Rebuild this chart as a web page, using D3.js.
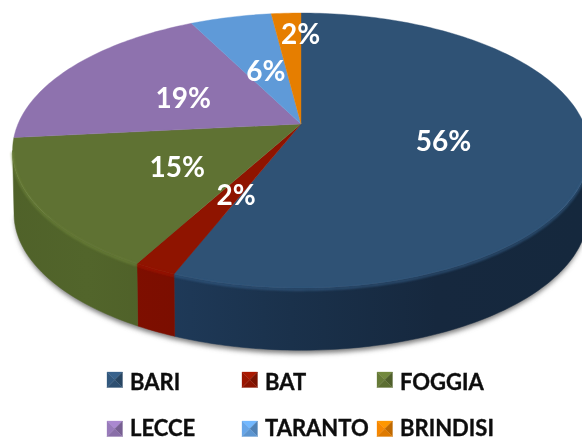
<!DOCTYPE html>
<html lang="en">

<head>
    <meta charset="UTF-8">
    <title>Pie 3D</title>
    <script src="https://d3js.org/d3.v7.min.js"></script>
    <style>
        html, body {
            margin: 0;
            padding: 0;
            background: #fff;
        }

        svg {
            display: block;
        }

        text {
            font-family: Lato, 'Open Sans', sans-serif;
        }

        .pct {
            fill: #fff;
            font-size: 28px;
            font-weight: 700;
            text-anchor: middle;
            dominant-baseline: central;
        }

        .legend-label {
            fill: #0d0d0d;
            stroke: #0d0d0d;
            stroke-width: 0.35px;
            font-size: 22px;
            font-weight: 700;
        }
    </style>
</head>

<body>
    <div id="chart"></div>

    <script>
        // Data (the labels show them rounded)
        const categories = ["BARI", "BAT", "FOGGIA", "LECCE", "TARANTO", "BRINDISI"];
        const shares = [56, 2, 15.4, 19.1, 5.5, 2];
        const colors = ["#2f5275", "#8f1400", "#5f7233", "#8e72ae", "#5f9ad8", "#e67e00"];
        const sideColors = ["#182d45", "#7d0e00", "#4f6129", "#6f5789", "#4a7ab0", "#b56300"];

        const width = 582, height = 441;

        // Perspective settings of the disc
        const apex = { x: 301, y: 124 };
        const persp = 0.193;
        const radiusX = 283, radiusY = 132.4;
        const depth = 63;
        const bottomShrink = 0.995;

        // project a point of the disc (angle clockwise from top, r 0..1) on screen
        function project(angle, r = 1, drop = 0, shrink = 1) {
            const u = Math.sin(angle) * r;
            const v = Math.cos(angle) * r;
            const w = 1 + persp * v;
            return [
                apex.x + radiusX * shrink * u / w,
                apex.y - radiusY * shrink * v / w + drop
            ];
        }

        function samples(a0, a1) {
            const n = Math.max(2, Math.ceil(Math.abs(a1 - a0) / 0.02));
            return d3.range(n + 1).map(i => a0 + (a1 - a0) * i / n);
        }

        const line = d3.line();
        const color = d3.scaleOrdinal().domain(categories).range(colors);
        const sideColor = d3.scaleOrdinal().domain(categories).range(sideColors);

        const pie = d3.pie().sort(null).value((d, i) => shares[i]);
        const slices = pie(categories);

        const svg = d3.select("#chart").append("svg")
            .attr("width", width)
            .attr("height", height);

        const defs = svg.append("defs");
        defs.append("filter").attr("id", "blurShadow")
            .attr("x", "-10%").attr("y", "-10%").attr("width", "120%").attr("height", "120%")
            .append("feGaussianBlur").attr("stdDeviation", 2.5);
        defs.append("filter").attr("id", "blurRim")
            .attr("x", "-10%").attr("y", "-10%").attr("width", "120%").attr("height", "120%")
            .append("feGaussianBlur").attr("stdDeviation", 1.2);
        defs.append("filter").attr("id", "blurText")
            .append("feGaussianBlur").attr("stdDeviation", 0.35);

        // Horizontal shading of each wall piece
        slices.forEach(s => {
            const base = d3.color(sideColor(s.data));
            const grad = defs.append("linearGradient")
                .attr("id", "wall" + s.index)
                .attr("gradientUnits", "userSpaceOnUse")
                .attr("x1", 0).attr("x2", width).attr("y1", 0).attr("y2", 0);
            const stops = s.data === "BARI"
                ? [[0.28, base.brighter(0.7)], [0.5, base.brighter(0.25)], [0.75, base.darker(0.3)], [1, base.darker(0.35)]]
                : [[0, base], [0.15, base.brighter(0.12)], [0.3, base.darker(0.05)]];
            stops.forEach(([o, c]) => grad.append("stop").attr("offset", o).attr("stop-color", c));
        });

        // Only the front of the wall can be seen, between the two tangent angles
        const wallFrom = Math.acos(-persp), wallTo = 2 * Math.PI - wallFrom;

        // Shadow under the disc
        const shadowRing = samples(wallFrom, wallTo).map(a => project(a, 1, depth + 4, bottomShrink - 0.005));
        svg.append("path")
            .attr("d", line(shadowRing) + "Z")
            .attr("fill", "#7a7a7a")
            .attr("filter", "url(#blurShadow)");

        // Side wall
        slices.forEach(s => {
            const a0 = Math.max(s.startAngle, wallFrom);
            const a1 = Math.min(s.endAngle, wallTo);
            if (a1 <= a0) return;
            const top = samples(a0, a1).map(a => project(a));
            const bottom = samples(a1, a0).map(a => project(a, 1, depth, bottomShrink));
            svg.append("path")
                .attr("d", line(top.concat(bottom)) + "Z")
                .attr("fill", `url(#wall${s.index})`)
                .attr("stroke", `url(#wall${s.index})`)
                .attr("stroke-width", 0.5);
        });

        // Top face
        slices.forEach(s => {
            const pts = [[apex.x, apex.y]].concat(samples(s.startAngle, s.endAngle).map(a => project(a)));
            svg.append("path")
                .attr("d", line(pts) + "Z")
                .attr("fill", color(s.data))
                .attr("stroke", color(s.data))
                .attr("stroke-width", 0.4);
        });

        // Soft bevel along the front edge
        slices.forEach(s => {
            const a0 = Math.max(s.startAngle, wallFrom);
            const a1 = Math.min(s.endAngle, wallTo);
            if (a1 <= a0) return;
            svg.append("path")
                .attr("d", line(samples(a0, a1).map(a => project(a, 1, 1.5))))
                .attr("fill", "none")
                .attr("stroke", d3.color(color(s.data)).brighter(0.5))
                .attr("stroke-width", 2.2)
                .attr("opacity", 0.7)
                .attr("filter", "url(#blurRim)");
        });

        // Percent labels, halfway out of each slice; the thin top one sits further out
        const labelRadius = [0.5, 0.5, 0.5, 0.5, 0.5, 0.8];
        const labelNudge = [[1, 3], [1, 4], [1, 3], [1, 3], [3, 4], [12, 1]];
        svg.selectAll("text.pct")
            .data(slices)
            .enter().append("text")
            .attr("class", "pct")
            .attr("filter", "url(#blurText)")
            .attr("x", s => project((s.startAngle + s.endAngle) / 2, labelRadius[s.index])[0] + labelNudge[s.index][0])
            .attr("y", s => project((s.startAngle + s.endAngle) / 2, labelRadius[s.index])[1] + labelNudge[s.index][1])
            .text((s, i) => Math.round(shares[i]) + "%");

        // Legend: 3 columns, 2 rows, bevelled swatches
        const legendX = d3.scalePoint().domain([0, 1, 2]).range([107, 377]);
        const legendY = d3.scalePoint().domain([0, 1]).range([372, 421]);
        const legendBaseline = d3.scalePoint().domain([0, 1]).range([389.5, 436]);
        const swatch = 15.5;

        const legend = svg.selectAll("g.legend")
            .data(categories)
            .enter().append("g")
            .attr("class", "legend")
            .attr("transform", (d, i) => `translate(${legendX(i % 3)},${legendY(Math.floor(i / 3))})`);

        legend.each(function (d) {
            const g = d3.select(this);
            const c = d3.color(color(d));
            const m = swatch / 2;
            const faces = [
                [[[0, 0], [swatch, 0], [m, m]], c.brighter(0.5)],
                [[[0, 0], [0, swatch], [m, m]], c.brighter(0.2)],
                [[[swatch, 0], [swatch, swatch], [m, m]], c.darker(0.5)],
                [[[0, swatch], [swatch, swatch], [m, m]], c.darker(0.1)]
            ];
            faces.forEach(([pts, fill]) => {
                g.append("path").attr("d", line(pts) + "Z").attr("fill", fill).attr("stroke", fill).attr("stroke-width", 0.3);
            });
        });

        legend.append("text")
            .attr("class", "legend-label")
            .attr("filter", "url(#blurText)")
            .attr("x", 23)
            .attr("y", (d, i) => legendBaseline(Math.floor(i / 3)) - legendY(Math.floor(i / 3)))
            .text(d => d);
    </script>
</body>

</html>
